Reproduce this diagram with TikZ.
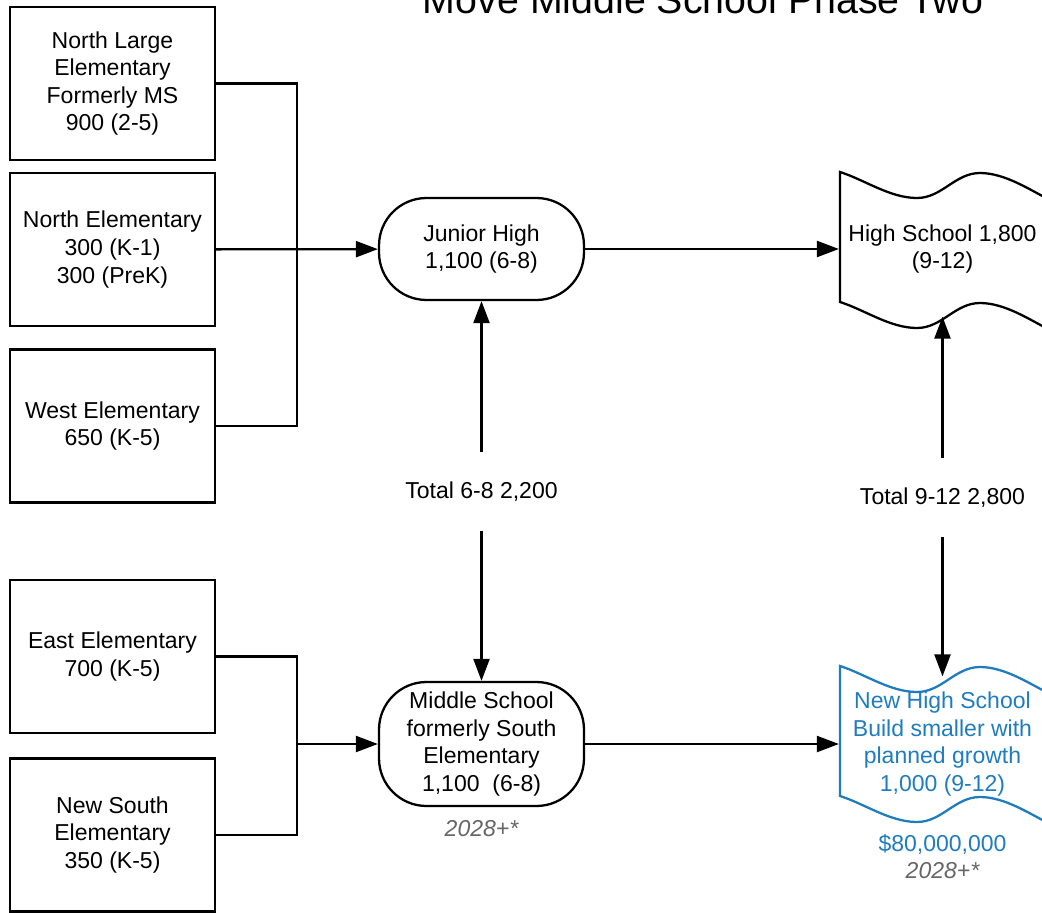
\documentclass[tikz,border=0pt]{standalone}
\usepackage{fontspec}
\setmainfont{Liberation Sans}
\usepackage{tikz}
\usetikzlibrary{positioning, arrows.meta}
\definecolor{newblue}{HTML}{1F7DBF}
\definecolor{dategray}{HTML}{666666}
\tikzset{
    x=0.02cm, y=-0.02cm, % one unit is one pixel of the plan
    every node/.style={align=center, font=\fontsize{13.1}{15.7}\selectfont}, % text size of every label
    school/.style={draw, minimum width=4.1cm, minimum height=3.06cm}, % the elementary boxes
    hub/.style={draw, rounded corners=0.95cm, minimum width=4.1cm}, % the rounded 6-8 schools
    tape/.style={minimum width=4.1cm, minimum height=2.66cm}, % text room inside the wavy shapes
    total/.style={minimum height=1.54cm}, % leaves the gap round the totals
    >={Triangle[length=0.44cm, width=0.32cm]}, % filled arrow heads
    tape outline/.pic={ % wavy outline, top left corner at the origin
        \draw (0,0) .. controls (25,8) and (50,26) .. (77,26) .. controls (102,26) and (115,1) .. (140,1)
            .. controls (165,1) and (190,18) .. (210,28) -- (210,158)
            .. controls (190,148) and (165,131) .. (140,131) .. controls (115,131) and (102,156) .. (77,156)
            .. controls (50,156) and (25,138) .. (0,130) -- cycle;
    },
}
\begin{document}
\begin{tikzpicture}[line width=1.3pt]
    \useasboundingbox (0,0) rectangle (1042,913);
    \clip (0,0) rectangle (1042,913);
    \node[font=\fontsize{22.4}{27}\selectfont, anchor=base] (title) at (703,13) {Move Middle School Phase Two};
    % elementary schools
    \node[school] (nle) at (112.5,83.5) {North Large\\Elementary\\Formerly MS\\900 (2-5)};
    \node[school] (ne) at (112.5,249.5) {North Elementary\\300 (K-1)\\300 (PreK)};
    \node[school] (we) at (112.5,426) {West Elementary\\650 (K-5)};
    \node[school] (ee) at (112.5,656.5) {East Elementary\\700 (K-5)};
    \node[school] (nse) at (112.5,835) {New South\\Elementary\\350 (K-5)};
    % 6-8 and 9-12
    \node[hub, minimum height=2.04cm] (jh) at (481.5,249) {Junior High\\1,100 (6-8)};
    \node[hub, minimum height=2.48cm] (ms) at (481.5,744) {Middle School\\formerly South\\Elementary\\1,100~~(6-8)};
    \node[font=\fontsize{13.1}{15.7}\selectfont\itshape, text=dategray] (msdate) at (481.5,829) {2028+*};
    \pic at (840,172) {tape outline};
    \pic[color=newblue] at (840,666) {tape outline};
    \node[tape] (hs) at (942.5,249) {High School 1,800\\(9-12)};
    \node[tape, text=newblue] (nhs) at (942.5,744) {New High School\\Build smaller with\\planned growth\\1,000 (9-12)};
    \node (cost) at (942.5,856.5) {\textcolor{newblue}{\$80,000,000}\\\textcolor{dategray}{\itshape 2028+*}};
    \node[total] (t68) at (481.5,491.5) {Total 6-8 2,200};
    \node[total] (t912) at (942.5,497.5) {Total 9-12 2,800};
    \coordinate (jn) at (297,249);
    \coordinate (js) at (297,744);
    % connectors
    \draw (nle.east) -| (jn) |- (we.east);
    \draw (ee.east) -| (js) |- (nse.east);
    \draw[->] (ne) -- (jh);
    \draw[->] (js) -- (ms);
    \draw[->] (jh) -- (hs);
    \draw[->] (ms) -- (nhs);
    \draw[->] (t68) -- (jh);
    \draw[->] (t68) -- (ms);
    \draw[->] (t912) -- (hs);
    \draw[->] (t912) -- (nhs);
\end{tikzpicture}
\end{document}
